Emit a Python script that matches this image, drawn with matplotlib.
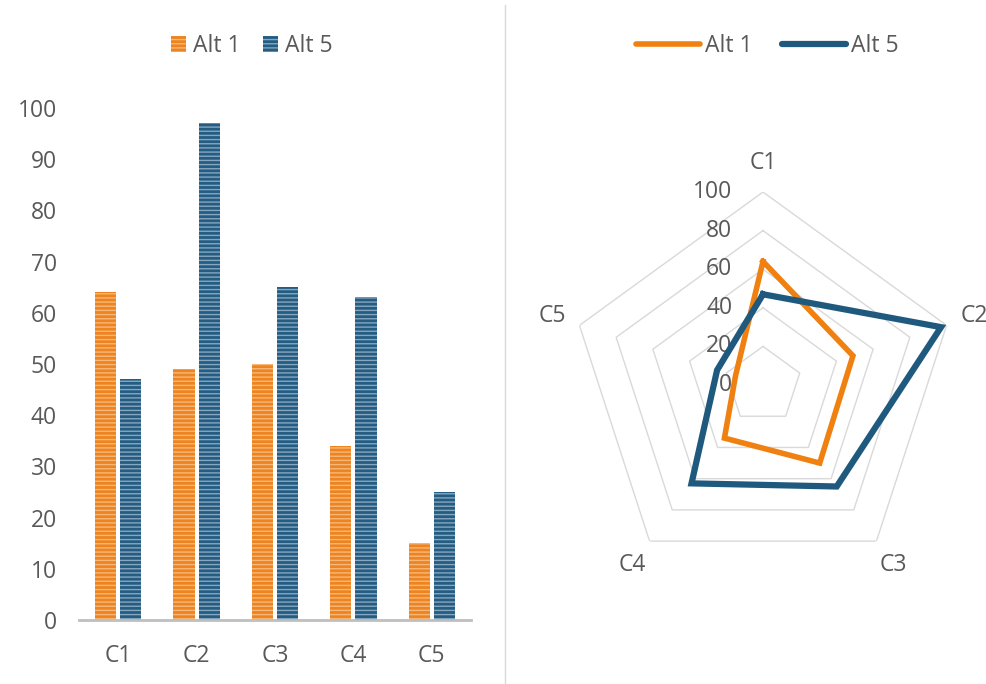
import numpy as np
import matplotlib
matplotlib.use("Agg")
import matplotlib.pyplot as plt
from matplotlib.patches import Patch
from matplotlib.lines import Line2D

categories = ["C1", "C2", "C3", "C4", "C5"]
alt1 = [64, 49, 50, 34, 15]
alt5 = [47, 97, 65, 63, 25]
series_names = ["Alt 1", "Alt 5"]
radar_ticks = [0, 20, 40, 60, 80, 100]

plt.rcParams["font.family"] = ["Open Sans", "DejaVu Sans"]
FS = 16.5
TXT = "#595959"
ORANGE, ORANGE_HATCH = "#EE8421", "#F7B877"
BLUE, BLUE_HATCH = "#245C82", "#86A7C0"
plt.rcParams["hatch.linewidth"] = 1.0

W, H = 986, 684
fig = plt.figure(figsize=(W / 100, H / 100), dpi=100)

# separator between the two charts
fig.add_artist(Line2D([505 / W, 505 / W], [0, 1 - 5 / H], color="#D9D9D9", lw=1))

# bar chart
ax = fig.add_axes([79 / W, 64 / H, 392 / W, 512 / H])
x = np.arange(len(categories))
bw = 0.27
ax.bar(x - 0.16, alt1, bw, color=ORANGE, edgecolor=ORANGE_HATCH, linewidth=0, hatch="----")
ax.bar(x + 0.16, alt5, bw, color=BLUE, edgecolor=BLUE_HATCH, linewidth=0, hatch="----")
ax.set_xlim(-0.5, len(categories) - 0.5)
ax.set_ylim(0, 100)
ax.set_yticks(range(0, 101, 10))
ax.set_xticks(x)
ax.set_xticklabels(categories)
for s in ["top", "right", "left"]:
    ax.spines[s].set_visible(False)
ax.spines["bottom"].set_color("#BFBFBF")
ax.spines["bottom"].set_linewidth(2)
ax.tick_params(axis="y", length=0, pad=16, labelsize=FS, labelcolor=TXT)
ax.tick_params(axis="x", length=0, pad=17, labelsize=FS, labelcolor=TXT)

handles = [Patch(facecolor=ORANGE, edgecolor=ORANGE_HATCH, linewidth=0, hatch="----"),
           Patch(facecolor=BLUE, edgecolor=BLUE_HATCH, linewidth=0, hatch="----")]
fig.legend(handles, series_names, loc="center", bbox_to_anchor=(252 / W, 1 - 46 / H), ncol=2,
           frameon=False, fontsize=FS, labelcolor=TXT, handlelength=0.65, handleheight=0.75,
           handletextpad=0.3, columnspacing=1.0)

# radar chart
R = 193
cx, cy = 763, 385
rax = fig.add_axes([(cx - R) / W, (H - cy - R) / H, 2 * R / W, 2 * R / H], projection="polar")
rax.set_theta_zero_location("N")
rax.set_theta_direction(-1)
rax.set_ylim(0, 100)
rax.grid(False)
rax.spines["polar"].set_visible(False)
rax.set_xticks([])
rax.set_yticks([])
rax.patch.set_alpha(0)

theta = np.linspace(0, 2 * np.pi, len(categories), endpoint=False)
tc = np.append(theta, theta[0])
for t in radar_ticks[1:]:
    rax.plot(tc, [t] * len(tc), color="#D9D9D9", lw=1, zorder=1)

rax.plot(tc, alt1 + alt1[:1], color="#F08010", lw=4, zorder=3, solid_joinstyle="miter")
rax.plot(tc, alt5 + alt5[:1], color="#1F5A7E", lw=4.5, zorder=4, solid_joinstyle="miter")

for t in radar_ticks:
    rax.annotate(str(t), xy=(0, t), xytext=(-22, 0), textcoords="offset points",
                 ha="right", va="center", fontsize=FS, color=TXT, zorder=2)
for th, c in zip(theta, categories):
    rax.text(th, 115, c, ha="center", va="center", fontsize=FS, color=TXT)

lh = [Line2D([], [], color="#F08010", lw=4, solid_capstyle="round"),
      Line2D([], [], color="#1F5A7E", lw=4.5, solid_capstyle="round")]
fig.legend(lh, series_names, loc="center", bbox_to_anchor=(767 / W, 1 - 46 / H), ncol=2,
           frameon=False, fontsize=FS, labelcolor=TXT, handlelength=2.8,
           handletextpad=0.2, columnspacing=1.3)

fig.savefig("out.png", dpi=100)
